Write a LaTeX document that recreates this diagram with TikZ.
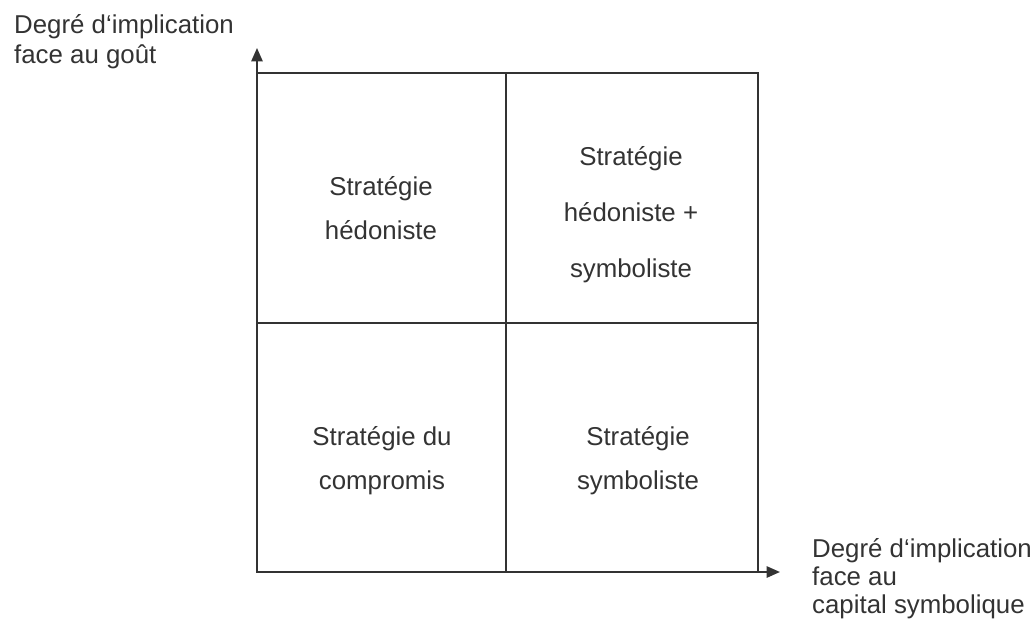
\documentclass[tikz,border=0pt]{standalone}
\usepackage{fontspec}
\setmainfont{Liberation Sans}
\usetikzlibrary{arrows.meta}
\definecolor{ink}{HTML}{333333}

\tikzset{
  quad/.style={align=center,anchor=base,text=ink,font=\fontsize{14.7}{25}\selectfont},
  axlabel/.style={align=left,anchor=base west,text=ink,font=\fontsize{14.7}{17}\selectfont},
  axis/.style={line width=1.1pt,draw=ink,-{Triangle[length=7.6pt,width=6.4pt]}}
}

\begin{document}
\begin{tikzpicture}[x={(0.02cm,0)},y={(0,-0.02cm)}]
        \useasboundingbox (0,0) rectangle (1035,623);
        \coordinate (O) at (257,572);
        \coordinate (ytip) at (257,48);
        \coordinate (xtip) at (780,572);
        \coordinate (NE) at (758,73);
        \coordinate (C) at (506,323);
        \draw [line width=1.1pt,ink] (O) rectangle (NE);
        \draw [line width=1.1pt,ink] (C |- NE)--(C |- O) (C -| O)--(C -| NE);
        \draw [axis] (O)--(ytip);
        \draw [axis] (O)--(xtip);
        % anchor base = baseline of the last line
        \node [quad] (hedo) at (381,239) {Stratégie\\hédoniste};
        \node [quad,font=\fontsize{14.7}{31.7}\selectfont] (hedosym) at (631,277) {Stratégie\\hédoniste +\\symboliste};
        \node [quad] (compr) at (382,489) {Stratégie du\\compromis};
        \node [quad] (sym) at (638,489) {Stratégie\\symboliste};
        \node [axlabel] (gout) at (8,63) {Degré d‘implication\\face au goût};
        \node [axlabel,font=\fontsize{14.7}{15.9}\selectfont] (capital) at (806,613) {Degré d‘implication\\face au\\capital symbolique};
    \end{tikzpicture}
\end{document}
